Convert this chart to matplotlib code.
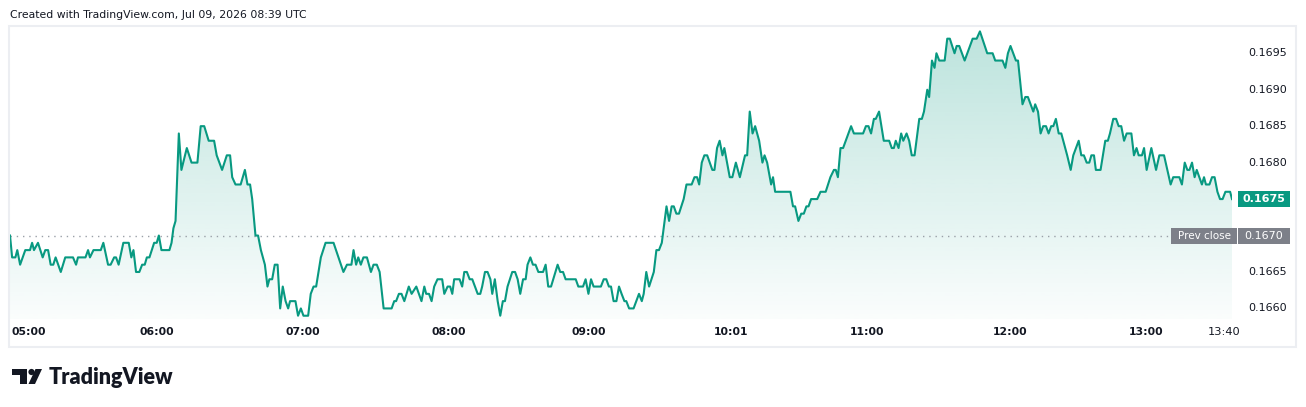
import numpy as np
import matplotlib
matplotlib.use("Agg")
import matplotlib.pyplot as plt
from matplotlib.patches import Polygon, Rectangle, Circle

# ---------------- data (1-minute bars, minutes since first bar) ----------------
minutes = [
    0.0, 0.9, 2.3, 3.1, 4.3, 5.4, 6.5, 8.5, 9.4, 10.2, 11.9, 13.9, 15.0, 16.2, 17.3, 18.4, 19.4, 21.6,
    23.5, 26.8, 28.1, 28.9, 32.1, 33.2, 34.0, 35.5, 38.6, 39.7, 41.7, 42.8, 44.3, 45.1, 46.2, 48.2,
    50.5, 51.6, 52.5, 53.6, 55.0, 56.2, 57.3, 58.2, 59.3, 61.3, 62.4, 63.3, 64.4, 67.8, 68.7, 69.5,
    70.4, 71.8, 72.9, 75.2, 77.2, 79.7, 81.1, 82.6, 84.5,
    86.8, 87.9, 90.2, 92.2, 93.6, 94.5, 95.9, 98.1, 99.9, 101.0, 102.1, 103.0, 104.4, 105.5, 106.7,
    108.4, 109.5, 110.3, 111.5, 112.6, 113.8, 114.9, 116.0, 117.2, 118.3, 119.1, 121.4, 122.5, 123.7,
    124.8, 126.8, 127.9, 129.1, 130.2, 132.2, 134.2, 137.6, 141.8, 143.3, 145.2, 146.1, 147.2, 148.1,
    149.2, 150.3, 151.8, 153.5, 154.6, 156.0, 157.2, 158.9, 162.3, 163.4, 164.2, 165.4, 166.5, 167.7,
    169.6, 170.8,
    172.8, 175.0, 176.2, 177.0, 178.2, 179.3, 180.4, 181.8, 183.8, 184.7, 186.1, 187.2, 188.1, 188.9,
    191.2, 192.3, 193.2, 194.3, 195.5, 196.6, 198.9, 200.0, 200.8, 202.0, 203.1, 204.3, 205.1, 206.2,
    207.4, 208.5, 209.6, 210.5, 211.6, 213.6, 214.8, 215.9, 217.0, 218.2, 219.3, 220.1, 221.3, 222.4,
    223.5, 224.7, 226.7, 227.8, 228.9, 230.1, 232.9, 234.0, 235.2, 236.3, 240.6, 241.7, 243.7, 244.8,
    246.0, 247.1, 248.2, 251.3, 252.5, 253.6, 254.7, 255.6, 256.7, 257.9, 259.0, 260.1, 261.3, 262.1,
    263.3, 265.2, 267.5,
    268.7, 269.5, 270.6, 271.8, 273.8, 274.9, 276.0, 277.2, 278.0, 279.2, 280.3, 281.4, 282.3, 283.4,
    284.5, 286.5, 287.7, 289.9, 291.1, 292.2, 293.1, 294.2, 295.3, 296.5, 298.7, 299.6, 300.7, 301.8,
    303.0, 303.8, 306.1, 307.2, 308.7, 310.4, 312.6, 313.5, 314.6, 315.8, 316.9, 318.6, 320.0, 320.9,
    322.0, 323.7, 324.5, 325.4, 331.9, 333.0, 333.9, 335.3, 336.5, 337.6, 338.7, 339.6, 340.7, 343.3,
    344.7, 346.9,
    348.9, 350.4, 351.2, 352.1, 353.2, 354.3, 357.7, 358.9, 362.8, 364.0, 365.1, 366.2, 367.4, 368.2,
    369.6, 371.6, 373.9, 375.0, 375.9, 376.7, 377.9, 379.0, 379.9, 381.3, 382.4, 383.5, 384.7, 386.7,
    387.8, 388.7, 390.1, 390.9, 392.1, 393.2, 394.0, 395.2, 397.5, 398.6, 399.7, 401.7, 402.6, 403.7,
    406.0, 409.4, 411.1, 412.5, 415.6, 417.9, 419.0, 422.1, 423.3, 424.4, 425.5, 427.8, 428.7, 430.6,
    431.8, 432.9,
    435.2, 436.0, 437.2, 438.3, 439.4, 440.6, 441.7, 442.8, 443.7, 444.8, 446.0, 447.1, 449.6, 451.1,
    452.2, 454.5, 455.6, 456.7, 457.9, 459.0, 459.9, 461.0, 461.8, 463.8, 465.8, 466.9, 467.8, 469.2,
    470.4, 471.5, 472.6, 473.8, 474.9, 476.9, 478.0, 479.1, 480.0, 481.4, 482.3, 483.4, 485.4, 487.4,
    488.8, 490.8, 493.6, 494.7, 497.3, 498.4, 499.6, 500.7, 501.6, 502.7, 503.8, 504.7, 505.8, 506.9,
    507.8, 508.6, 510.1, 511.2, 512.3, 513.5, 514.6, 515.7, 516.9, 518.9, 519.7,
]

prices = [
    0.1670, 0.1667, 0.1667, 0.1668, 0.1666, 0.1667, 0.1668, 0.1668, 0.1669, 0.1668, 0.1669, 0.1667,
    0.1668, 0.1668, 0.1666, 0.1666, 0.1667, 0.1665, 0.1667, 0.1667, 0.1666, 0.1667, 0.1667, 0.1668,
    0.1667, 0.1668, 0.1668, 0.1669, 0.1666, 0.1666, 0.1667, 0.1667, 0.1666, 0.1669, 0.1669, 0.1667,
    0.1668, 0.1665, 0.1665, 0.1666, 0.1666, 0.1667, 0.1667, 0.1669, 0.1669, 0.1670, 0.1668, 0.1668,
    0.1669, 0.1671, 0.1672, 0.1684, 0.1679, 0.1682, 0.1680, 0.1680, 0.1685, 0.1685, 0.1683,
    0.1683, 0.1681, 0.1679, 0.1681, 0.1681, 0.1678, 0.1677, 0.1677, 0.1679, 0.1677, 0.1677, 0.1675,
    0.1670, 0.1670, 0.1668, 0.1666, 0.1663, 0.1664, 0.1664, 0.1666, 0.1666, 0.1660, 0.1663, 0.1661,
    0.1660, 0.1661, 0.1661, 0.1659, 0.1660, 0.1659, 0.1659, 0.1662, 0.1663, 0.1663, 0.1667, 0.1669,
    0.1669, 0.1665, 0.1666, 0.1666, 0.1668, 0.1666, 0.1667, 0.1666, 0.1667, 0.1667, 0.1665, 0.1666,
    0.1666, 0.1665, 0.1660, 0.1660, 0.1661, 0.1661, 0.1662, 0.1662, 0.1661, 0.1663, 0.1662,
    0.1663, 0.1661, 0.1663, 0.1662, 0.1662, 0.1661, 0.1663, 0.1664, 0.1664, 0.1662, 0.1663, 0.1663,
    0.1662, 0.1664, 0.1664, 0.1663, 0.1665, 0.1665, 0.1664, 0.1664, 0.1662, 0.1662, 0.1663, 0.1665,
    0.1665, 0.1664, 0.1662, 0.1664, 0.1661, 0.1659, 0.1661, 0.1661, 0.1663, 0.1665, 0.1665, 0.1664,
    0.1662, 0.1664, 0.1664, 0.1666, 0.1667, 0.1666, 0.1666, 0.1665, 0.1665, 0.1666, 0.1663, 0.1663,
    0.1666, 0.1665, 0.1665, 0.1664, 0.1664, 0.1663, 0.1663, 0.1664, 0.1662, 0.1664, 0.1663, 0.1663,
    0.1664, 0.1664, 0.1663, 0.1663, 0.1661, 0.1661, 0.1663, 0.1662, 0.1661, 0.1661, 0.1660, 0.1660,
    0.1662,
    0.1661, 0.1662, 0.1665, 0.1663, 0.1665, 0.1668, 0.1668, 0.1669, 0.1671, 0.1674, 0.1672, 0.1674,
    0.1674, 0.1673, 0.1673, 0.1675, 0.1677, 0.1677, 0.1678, 0.1678, 0.1677, 0.1680, 0.1681, 0.1681,
    0.1679, 0.1679, 0.1682, 0.1683, 0.1681, 0.1682, 0.1678, 0.1678, 0.1680, 0.1678, 0.1681, 0.1681,
    0.1687, 0.1684, 0.1685, 0.1683, 0.1680, 0.1681, 0.1680, 0.1677, 0.1678, 0.1676, 0.1676, 0.1674,
    0.1674, 0.1672, 0.1673, 0.1673, 0.1674, 0.1674, 0.1675, 0.1675, 0.1676, 0.1676,
    0.1678, 0.1679, 0.1679, 0.1678, 0.1682, 0.1682, 0.1685, 0.1684, 0.1684, 0.1685, 0.1685, 0.1684,
    0.1686, 0.1686, 0.1687, 0.1683, 0.1683, 0.1682, 0.1682, 0.1683, 0.1682, 0.1684, 0.1683, 0.1684,
    0.1683, 0.1681, 0.1681, 0.1686, 0.1686, 0.1687, 0.1690, 0.1689, 0.1694, 0.1693, 0.1695, 0.1694,
    0.1694, 0.1697, 0.1697, 0.1695, 0.1696, 0.1696, 0.1694, 0.1697, 0.1697, 0.1698, 0.1695, 0.1695,
    0.1694, 0.1694, 0.1693, 0.1695, 0.1696, 0.1694, 0.1694, 0.1688, 0.1689, 0.1689,
    0.1687, 0.1688, 0.1687, 0.1684, 0.1685, 0.1685, 0.1684, 0.1685, 0.1685, 0.1686, 0.1684, 0.1684,
    0.1681, 0.1679, 0.1681, 0.1683, 0.1681, 0.1681, 0.1680, 0.1680, 0.1681, 0.1681, 0.1679, 0.1679,
    0.1683, 0.1683, 0.1684, 0.1686, 0.1686, 0.1685, 0.1685, 0.1683, 0.1684, 0.1684, 0.1681, 0.1682,
    0.1681, 0.1681, 0.1682, 0.1679, 0.1682, 0.1679, 0.1681, 0.1681, 0.1677, 0.1678, 0.1678, 0.1677,
    0.1680, 0.1679, 0.1679, 0.1680, 0.1678, 0.1679, 0.1678, 0.1677, 0.1678, 0.1677, 0.1677, 0.1678,
    0.1678, 0.1676, 0.1675, 0.1675, 0.1676, 0.1676, 0.1675,
]

prev_close = 0.1670
last_price = 0.1675
price_ticks = [0.1695, 0.1690, 0.1685, 0.1680, 0.1665, 0.1660]
time_labels = ["05:00", "06:00", "07:00", "08:00", "09:00", "10:01", "11:00", "12:00", "13:00", "13:40"]
time_ticks = [0.0, 62.6, 124.7, 186.8, 246.0, 306.8, 364.7, 425.5, 483.0, 516.2]
header_text = "Created with TradingView.com, Jul 09, 2026 08:39 UTC"

# ---------------- styling ----------------
GREEN = "#089981"
TXT = "#131722"
W, H = 1306, 407

fig = plt.figure(figsize=(W / 100, H / 100), dpi=100)
fig.patch.set_facecolor("white")


def fig_rect(x0, y0, x1, y1):
    return [x0 / W, 1 - y1 / H, (x1 - x0) / W, (y1 - y0) / H]


ax = fig.add_axes(fig_rect(10, 26, 1232, 319))
ax.set_axis_off()
ylo, yhi = 0.165855, 0.169874

t = np.array(minutes)
p = np.array(prices)

# gradient area fill
verts = np.vstack([np.column_stack([t, p]), [[t[-1], ylo], [t[0], ylo]]])
clip_poly = Polygon(verts, closed=True, facecolor="none", edgecolor="none")
ax.add_patch(clip_poly)
n = 256
grad = np.zeros((n, 1, 4))
rgb = np.array([8, 153, 129]) / 255.0
grad[..., 0] = rgb[0]
grad[..., 1] = rgb[1]
grad[..., 2] = rgb[2]
grad[:, 0, 3] = np.linspace(0.27, 0.02, n)
im = ax.imshow(grad, extent=[t[0], t[-1], ylo, p.max()], aspect="auto",
               origin="upper", zorder=1, interpolation="bilinear")
im.set_clip_path(clip_poly)

# prev close dotted line
ax.axhline(prev_close, color="#9aa0a8", lw=1.0, ls=(0, (1, 3.5)), zorder=2)

# price line
ax.plot(t, p, color=GREEN, lw=1.5, solid_joinstyle="round", zorder=3)

ax.set_xlim(t[0], t[-1])
ax.set_ylim(ylo, yhi)

# ---------------- overlay in pixel coords ----------------
ov = fig.add_axes([0, 0, 1, 1])
ov.set_xlim(0, W)
ov.set_ylim(H, 0)
ov.set_axis_off()
ov.patch.set_alpha(0)


def py(price):
    return H - ax.transData.transform((t[0], price))[1]


def px(m):
    return ax.transData.transform((m, ylo))[0]


# border
ov.add_patch(Rectangle((9, 26), 1287, 321, facecolor="none", edgecolor="#eceef2", lw=1.5))

# header
ov.text(10, 15, header_text, fontsize=7.8, color=TXT, ha="left", va="center",
        family="DejaVu Sans")

# price labels
for pt in price_ticks:
    ov.text(1248, py(pt), f"{pt:.4f}", fontsize=8, color=TXT, ha="left", va="center")

# last price label
yl = py(last_price)
ov.add_patch(Rectangle((1238, yl - 8), 52, 16, facecolor=GREEN, edgecolor="none"))
ov.text(1264, yl, f"{last_price:.4f}", fontsize=8, color="white", ha="center",
        va="center", fontweight="bold")

# prev close label
yp = py(prev_close)
ov.add_patch(Rectangle((1171, yp - 8), 66, 16, facecolor="#7d8089", edgecolor="none"))
ov.add_patch(Rectangle((1238, yp - 8), 52, 16, facecolor="#7d8089", edgecolor="none"))
ov.text(1204, yp, "Prev close", fontsize=7.5, color="white", ha="center", va="center")
ov.text(1264, yp, f"{prev_close:.4f}", fontsize=8, color="white", ha="center", va="center")

# time labels
for lab, tt in zip(time_labels, time_ticks):
    bold = lab != "13:40"
    if lab == "05:00":
        ov.text(11, 332, lab, fontsize=7.8, color=TXT, ha="left", va="center",
                fontweight="bold")
    else:
        ov.text(px(tt), 332, lab, fontsize=7.8 if bold else 8.2, color=TXT, ha="center",
                va="center", fontweight="bold" if bold else "normal")

# TradingView logo
LOGO = "#131722"
ov.add_patch(Rectangle((12, 369), 15, 6, facecolor=LOGO, edgecolor="none"))
ov.add_patch(Rectangle((20, 369), 7, 15, facecolor=LOGO, edgecolor="none"))
ov.add_patch(Circle((31.5, 372), 3.1, facecolor=LOGO, edgecolor="none"))
ov.add_patch(Polygon([(35.5, 369), (42, 369), (35, 384), (28.5, 384)], closed=True,
                     facecolor=LOGO, edgecolor="none"))
ov.text(49, 384, "TradingView", fontsize=15.5, color=LOGO, ha="left", va="baseline",
        family=["Lato", "DejaVu Sans"], fontweight="heavy")

fig.savefig("out.png", dpi=100, facecolor="white")
